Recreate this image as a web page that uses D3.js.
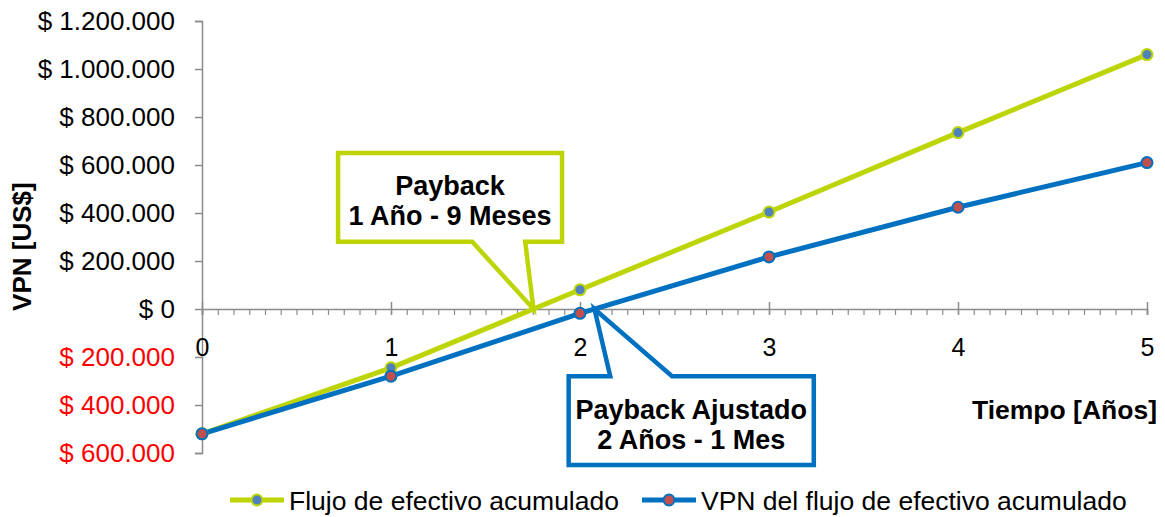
<!DOCTYPE html>
<html>
<head>
<meta charset="utf-8">
<script src="https://cdn.jsdelivr.net/npm/d3@7"></script>
<style>
  body { margin: 0; background: #fff; }
  text { font-family: "Liberation Sans", Arial, sans-serif; }
</style>
</head>
<body>
<div id="chart"></div>
<script>
// data
var years = [0, 1, 2, 3, 4, 5];
var flujoAcumulado = [-520000, -245000, 80000, 404000, 735000, 1060000];
var vpnAcumulado = [-520000, -280000, -18000, 217000, 424000, 610000];
var yTicks = [-600000, -400000, -200000, 0, 200000, 400000, 600000, 800000, 1000000, 1200000];
var seriesNames = ["Flujo de efectivo acumulado", "VPN del flujo de efectivo acumulado"];
var calloutText1 = ["Payback", "1 Año - 9 Meses"];
var calloutText2 = ["Payback Ajustado", "2 Años - 1 Mes"];

var W = 1165, H = 517;
var green = "#BDD406", blue = "#0070C0";
var axisColor = "#8c8c8c";

var svg = d3.select("#chart").append("svg")
    .attr("width", W)
    .attr("height", H);

svg.append("rect").attr("width", W).attr("height", H).attr("fill", "#fff");

var x = d3.scaleLinear().domain([0, 5]).range([202, 1147]);
var y = d3.scaleLinear().domain([-600000, 1200000]).range([453, 21]);

var loc = d3.formatLocale({ decimal: ",", thousands: ".", grouping: [3], currency: ["$ ", ""] });
var fmt = loc.format(",.0f");

//y axis, ticks outside, negatives red without sign
var gy = svg.append("g")
    .attr("transform", "translate(" + x(0) + ",0)")
    .call(d3.axisLeft(y).tickValues(yTicks).tickSize(7).tickPadding(20)
        .tickFormat(function (d) { return "$ " + fmt(Math.abs(d)); }));
gy.select(".domain").attr("stroke", axisColor).attr("stroke-width", 1.5);
gy.selectAll(".tick line").attr("stroke", axisColor).attr("stroke-width", 1.5);
gy.selectAll(".tick text")
    .attr("font-size", 26)
    .attr("font-family", "Liberation Sans, Arial, sans-serif")
    .attr("fill", function (d) { return d < 0 ? "#ff0000" : "#000"; });

//x axis at zero, monthly minor ticks
var minor = d3.range(0, 5 * 12 + 1).map(function (m) { return m / 12; });
var gxMinor = svg.append("g")
    .attr("transform", "translate(0," + y(0) + ")")
    .call(d3.axisBottom(x).tickValues(minor).tickSize(6).tickFormat(""));
gxMinor.select(".domain").attr("stroke", axisColor).attr("stroke-width", 1.5);
gxMinor.selectAll(".tick line").attr("stroke", axisColor).attr("stroke-width", 1.2);

var gx = svg.append("g")
    .attr("transform", "translate(0," + y(0) + ")")
    .call(d3.axisBottom(x).tickValues(years).tickSize(6).tickPadding(23).tickFormat(d3.format("d")));
gx.select(".domain").remove();
gx.selectAll(".tick line").attr("y1", -7).attr("stroke", axisColor).attr("stroke-width", 1.5);
gx.selectAll(".tick text")
    .attr("font-size", 25)
    .attr("font-family", "Liberation Sans, Arial, sans-serif")
    .attr("fill", "#000");

//axis titles
svg.append("text")
    .attr("transform", "translate(31," + y(260000) + ") rotate(-90)")
    .attr("text-anchor", "middle")
    .attr("font-size", 26)
    .attr("font-weight", "bold")
    .text("VPN [US$]");

svg.append("text")
    .attr("x", 1157)
    .attr("y", 419)
    .attr("text-anchor", "end")
    .attr("font-size", 26.5)
    .attr("font-weight", "bold")
    .text("Tiempo [Años]");

//zero crossing of a series, linear between points
function crossing(vals) {
    for (var i = 1; i < vals.length; i++) {
        if (vals[i - 1] < 0 && vals[i] >= 0) {
            return years[i - 1] + (-vals[i - 1]) / (vals[i] - vals[i - 1]);
        }
    }
    return null;
}

//callouts, box corners in data units
function callout(box, base, tipX, color, lines) {
    var tx = x(tipX), ty = y(0);
    var x0 = x(box[0]), x1 = x(box[1]), y0 = y(box[2]), y1 = y(box[3]);
    var b0 = x(base[0]), b1 = x(base[1]);
    var p;
    if (ty > y1) {
        // pointer from bottom edge
        p = "M" + x0 + "," + y0 + "H" + x1 + "V" + y1 + "H" + b1 + "L" + tx + "," + ty + "L" + b0 + "," + y1 + "H" + x0 + "Z";
    } else {
        // pointer from top edge
        p = "M" + x0 + "," + y0 + "H" + b0 + "L" + tx + "," + ty + "L" + b1 + "," + y0 + "H" + x1 + "V" + y1 + "H" + x0 + "Z";
    }
    svg.append("path")
        .attr("d", p)
        .attr("fill", "#fff")
        .attr("stroke", color)
        .attr("stroke-width", 4.5)
        .attr("stroke-linejoin", "miter");
    var cx = (x0 + x1) / 2, cy = (y0 + y1) / 2;
    lines.forEach(function (t, i) {
        svg.append("text")
            .attr("x", cx)
            .attr("y", cy + (i - 0.5) * 30 + 13)
            .attr("text-anchor", "middle")
            .attr("font-size", 27)
            .attr("font-weight", "bold")
            .text(t);
    });
}

//lines
var line = d3.line()
    .x(function (d, i) { return x(years[i]); })
    .y(function (d) { return y(d); });

svg.append("path")
    .datum(flujoAcumulado)
    .attr("d", line)
    .attr("fill", "none")
    .attr("stroke", green)
    .attr("stroke-width", 5);

svg.append("path")
    .datum(vpnAcumulado)
    .attr("d", line)
    .attr("fill", "none")
    .attr("stroke", blue)
    .attr("stroke-width", 5);

callout([0.72, 1.905, 650000, 280000], [1.43, 1.71], crossing(flujoAcumulado), green, calloutText1);
callout([1.94, 3.237, -280000, -650000], [2.16, 2.487], crossing(vpnAcumulado), blue, calloutText2);

//markers
svg.selectAll(".m1").data(flujoAcumulado).enter().append("circle")
    .attr("cx", function (d, i) { return x(years[i]); })
    .attr("cy", function (d) { return y(d); })
    .attr("r", 5.5)
    .attr("fill", "#4F81BD")
    .attr("stroke", green)
    .attr("stroke-width", 2);

svg.selectAll(".m2").data(vpnAcumulado).enter().append("circle")
    .attr("cx", function (d, i) { return x(years[i]); })
    .attr("cy", function (d) { return y(d); })
    .attr("r", 5.5)
    .attr("fill", "#C0504D")
    .attr("stroke", blue)
    .attr("stroke-width", 2);

//legend
var legend = [
    { name: seriesNames[0], stroke: green, fill: "#4F81BD", x: 230 },
    { name: seriesNames[1], stroke: blue, fill: "#C0504D", x: 642 }
];
var lg = svg.selectAll(".legend").data(legend).enter().append("g")
    .attr("transform", function (d) { return "translate(" + d.x + ",500)"; });
lg.append("line").attr("x1", 0).attr("x2", 54).attr("stroke", function (d) { return d.stroke; }).attr("stroke-width", 5);
lg.append("circle").attr("cx", 27).attr("r", 5.5)
    .attr("fill", function (d) { return d.fill; })
    .attr("stroke", function (d) { return d.stroke; })
    .attr("stroke-width", 2);
lg.append("text")
    .attr("x", 59)
    .attr("y", 9.5)
    .attr("font-size", 26.5)
    .text(function (d) { return d.name; });
</script>
</body>
</html>
